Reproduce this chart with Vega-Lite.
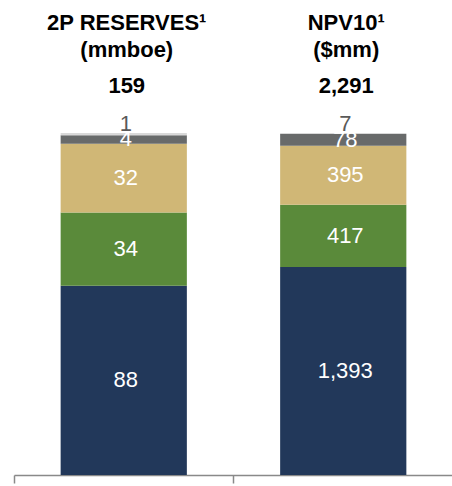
{
  "$schema": "https://vega.github.io/schema/vega-lite/v6.json",
  "width": 439,
  "height": 475,
  "padding": {"left": 13, "top": 0, "right": 0, "bottom": 3},
  "config": {
    "view": {"stroke": null},
    "font": "Liberation Sans",
    "axis": {"grid": false}
  },
  "datasets": {
    "seg": [
      {"bar": "2P", "cat": "A", "ord": 1, "value": 88},
      {"bar": "2P", "cat": "B", "ord": 2, "value": 34},
      {"bar": "2P", "cat": "C", "ord": 3, "value": 32},
      {"bar": "2P", "cat": "D", "ord": 4, "value": 4},
      {"bar": "2P", "cat": "E", "ord": 5, "value": 1},
      {"bar": "NPV", "cat": "A", "ord": 1, "value": 1393},
      {"bar": "NPV", "cat": "B", "ord": 2, "value": 417},
      {"bar": "NPV", "cat": "C", "ord": 3, "value": 395},
      {"bar": "NPV", "cat": "D", "ord": 4, "value": 78},
      {"bar": "NPV", "cat": "E", "ord": 5, "value": 7}
    ],
    "titles": [
      {"bar": "2P", "l1": "2P RESERVES¹", "l2": "(mmboe)", "l3": "159"},
      {"bar": "NPV", "l1": "NPV10¹", "l2": "($mm)", "l3": "2,291"}
    ]
  },
  "encoding": {
    "x": {
      "field": "bar",
      "type": "nominal",
      "sort": ["2P", "NPV"],
      "scale": {"paddingInner": 0, "paddingOuter": 0},
      "axis": {
        "labels": false,
        "title": null,
        "bandPosition": 0,
        "domainColor": "#898989",
        "domainWidth": 1.5,
        "tickColor": "#898989",
        "tickWidth": 1.5,
        "tickSize": 8
      }
    }
  },
  "layer": [
    {
      "data": {"name": "seg"},
      "mark": {"type": "bar", "width": {"band": 0.575}},
      "encoding": {
        "y": {"field": "value", "type": "quantitative", "stack": "normalize", "scale": {"domain": [0, 1.3889]}, "axis": null},
        "order": {"field": "ord", "type": "quantitative"},
        "color": {
          "field": "cat",
          "type": "nominal",
          "legend": null,
          "scale": {"domain": ["A", "B", "C", "D", "E"], "range": ["#22385a", "#5a8a3a", "#d0b776", "#686a6a", "#d9d9d9"]}
        }
      }
    },
    {
      "data": {"name": "seg"},
      "mark": {"type": "text", "fontSize": 22, "color": "white", "baseline": "middle", "dx": 2},
      "encoding": {
        "y": {"field": "value", "type": "quantitative", "stack": "normalize", "bandPosition": 0.5, "scale": {"domain": [0, 1.3889]}, "axis": null},
        "order": {"field": "ord", "type": "quantitative"},
        "detail": {"field": "cat"},
        "text": {"field": "value", "type": "quantitative", "format": ","},
        "opacity": {"condition": {"test": "datum.ord <= 4", "value": 1}, "value": 0}
      }
    },
    {
      "data": {"name": "seg"},
      "mark": {"type": "text", "fontSize": 22, "color": "#595959", "baseline": "middle", "dx": 2, "dy": -10},
      "encoding": {
        "y": {"field": "value", "type": "quantitative", "stack": "normalize", "bandPosition": 0.5, "scale": {"domain": [0, 1.3889]}, "axis": null},
        "order": {"field": "ord", "type": "quantitative"},
        "detail": {"field": "cat"},
        "text": {"field": "value", "type": "quantitative", "format": ","},
        "opacity": {"condition": {"test": "datum.ord == 5", "value": 1}, "value": 0}
      }
    },
    {
      "data": {"name": "titles"},
      "mark": {"type": "text", "fontSize": 22, "fontWeight": "bold", "color": "black", "baseline": "alphabetic", "dx": 3},
      "encoding": {
        "y": {"datum": 1.3, "type": "quantitative", "scale": {"domain": [0, 1.3889]}, "axis": null},
        "text": {"field": "l1"}
      }
    },
    {
      "data": {"name": "titles"},
      "mark": {"type": "text", "fontSize": 22, "fontWeight": "bold", "color": "black", "baseline": "alphabetic", "dx": 3},
      "encoding": {
        "y": {"datum": 1.2222, "type": "quantitative", "scale": {"domain": [0, 1.3889]}, "axis": null},
        "text": {"field": "l2"}
      }
    },
    {
      "data": {"name": "titles"},
      "mark": {"type": "text", "fontSize": 22, "fontWeight": "bold", "color": "black", "baseline": "alphabetic", "dx": 3},
      "encoding": {
        "y": {"datum": 1.117, "type": "quantitative", "scale": {"domain": [0, 1.3889]}, "axis": null},
        "text": {"field": "l3"}
      }
    }
  ]
}
